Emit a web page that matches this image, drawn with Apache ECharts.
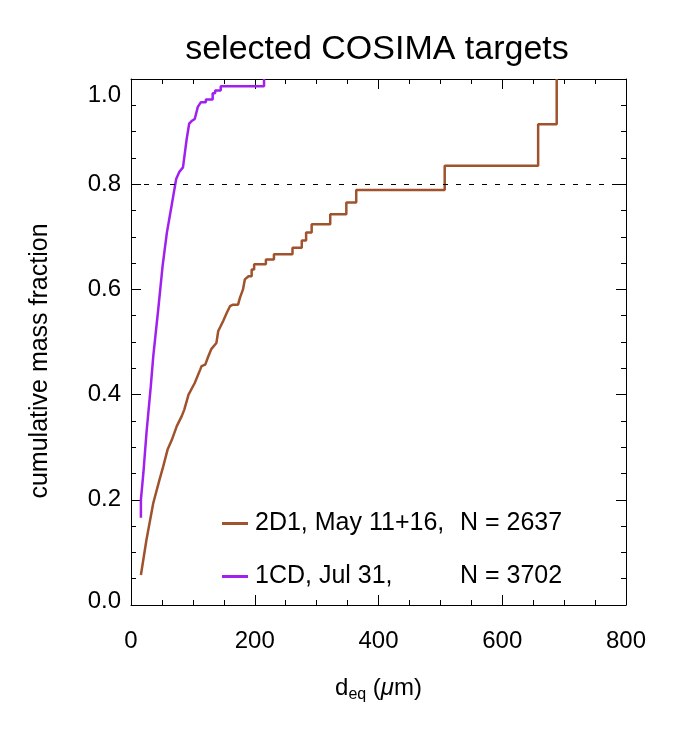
<!DOCTYPE html>
<html>
<head>
<meta charset="utf-8">
<script src="https://cdn.jsdelivr.net/npm/echarts@6/dist/echarts.min.js"></script>
<style>
  html, body { margin: 0; padding: 0; background: #fff; }
  #chart { width: 681px; height: 738px; }
</style>
</head>
<body>
<div id="chart"></div>
<script>
// 2D1, May 11+16 — cumulative mass fraction vs d_eq (um)
const d2D1 = [16, 25, 36, 46, 52, 59, 66, 74, 82, 86, 93, 103, 112, 114, 120, 125, 130, 138, 141, 149,
  155, 160, 165, 173, 176, 181, 184, 190, 195, 195, 199, 199, 218, 218, 231, 231, 261, 261, 276, 276,
  283, 283, 292, 292, 322, 322, 348, 348, 364, 364, 507, 507, 658, 658, 688, 688]
const f2D1 = [0.057, 0.124, 0.194, 0.238, 0.263, 0.295, 0.314, 0.34, 0.359, 0.371, 0.40, 0.422, 0.448, 0.454, 0.457, 0.473, 0.487, 0.498, 0.521, 0.54,
  0.556, 0.568, 0.571, 0.571, 0.584, 0.60, 0.619, 0.625, 0.625, 0.638, 0.638, 0.648, 0.648, 0.657, 0.657, 0.667, 0.667, 0.679, 0.679, 0.693,
  0.693, 0.708, 0.708, 0.724, 0.724, 0.743, 0.743, 0.765, 0.765, 0.789, 0.789, 0.835, 0.835, 0.914, 0.914, 1.0]

// 1CD, Jul 31
const d1CD = [16, 16, 20, 25, 32, 36, 44, 51, 58, 66, 73, 78, 84, 90, 94, 98, 103, 108, 110, 113,
  121, 121, 132, 132, 136, 136, 145, 145, 215, 215]
const f1CD = [0.166, 0.20, 0.251, 0.327, 0.416, 0.473, 0.562, 0.644, 0.708, 0.762, 0.81, 0.823, 0.832, 0.886, 0.915, 0.92, 0.924, 0.947, 0.949, 0.956,
  0.956, 0.961, 0.961, 0.973, 0.973, 0.978, 0.978, 0.986, 0.986, 1.0]

const legendLabels = ['2D1, May 11+16,', '1CD, Jul 31,']
const legendCounts = [2637, 3702]
const refLevel = 0.8

const FONT = 'Liberation Sans, Helvetica, Arial, sans-serif'
const zip = (xs, ys) => xs.map((x, i) => [x, ys[i]])

const chart = echarts.init(document.getElementById('chart'))

const axisLine = { show: true, onZero: false, lineStyle: { color: '#000', width: 1 } }
const tick = { show: true, inside: true, length: 10, lineStyle: { color: '#000' } }
const minor = { show: true, splitNumber: 4, length: 5, lineStyle: { color: '#000' } }

const option = {
  backgroundColor: '#fff',
  animation: false,
  title: {
    text: 'selected COSIMA targets',
    left: 372,
    top: 28,
    textAlign: 'center',
    textStyle: { fontFamily: FONT, fontSize: 34, fontWeight: 'normal', color: '#000' }
  },
  grid: { left: 131, right: 55, top: 79, bottom: 133 },
  legend: {
    orient: 'vertical',
    left: 217,
    top: 506,
    icon: 'rect',
    itemWidth: 26,
    itemHeight: 3,
    itemGap: 28,
    data: ['2D1', '1CD'],
    formatter: name => {
      const i = name === '2D1' ? 0 : 1
      return `{a|${legendLabels[i]}}{b|N = ${legendCounts[i]}}`
    },
    textStyle: {
      fontFamily: FONT, fontSize: 25, color: '#000', lineHeight: 24,
      rich: {
        a: { fontFamily: FONT, fontSize: 25, width: 205, padding: [0, 0, 0, 2] },
        b: { fontFamily: FONT, fontSize: 25 }
      }
    }
  },
  xAxis: [
    {
      type: 'value', min: 0, max: 800, interval: 200,
      axisLine, axisTick: tick, minorTick: minor, splitLine: { show: false },
      axisLabel: { fontFamily: FONT, fontSize: 24, color: '#000', margin: 24 },
      name: '{a|d}{s|eq}{a| (}{i|μ}{a|m)}',
      nameLocation: 'middle',
      nameGap: 68,
      nameTextStyle: {
        rich: {
          a: { fontFamily: FONT, fontSize: 24, color: '#000' },
          s: { fontFamily: FONT, fontSize: 16, color: '#000', padding: [14, 0, 0, 0] },
          i: { fontFamily: FONT, fontSize: 24, fontStyle: 'italic', color: '#000' }
        }
      }
    },
    {
      type: 'value', position: 'top', min: 0, max: 800, interval: 200,
      axisLine, axisTick: tick, minorTick: minor, splitLine: { show: false },
      axisLabel: { show: false }
    }
  ],
  yAxis: [
    {
      type: 'value', min: 0, max: 1, interval: 0.2,
      axisLine, axisTick: tick, minorTick: minor, splitLine: { show: false },
      axisLabel: {
        fontFamily: FONT, fontSize: 24, color: '#000', margin: 10,
        formatter: v => v >= 1 ? `{t|${v.toFixed(1)}}` : v <= 0 ? `{b|${v.toFixed(1)}}` : v.toFixed(1),
        rich: {
          t: { fontFamily: FONT, fontSize: 24, color: '#000', padding: [32, 0, 0, 0] },
          b: { fontFamily: FONT, fontSize: 24, color: '#000', padding: [0, 0, 8, 0] }
        }
      },
      name: 'cumulative mass fraction',
      nameLocation: 'middle',
      nameGap: 78,
      nameTextStyle: { fontFamily: FONT, fontSize: 25, color: '#000', padding: [0, 38, 0, 0] }
    },
    {
      type: 'value', position: 'right', min: 0, max: 1, interval: 0.2,
      axisLine, axisTick: tick, minorTick: minor, splitLine: { show: false },
      axisLabel: { show: false }
    }
  ],
  series: [
    {
      name: '2D1',
      type: 'line',
      data: zip(d2D1, f2D1),
      symbol: 'none',
      lineStyle: { color: '#A0522D', width: 2.5 },
      itemStyle: { color: '#A0522D' },
      markLine: {
        silent: true,
        symbol: 'none',
        label: { show: false },
        lineStyle: { color: '#000', width: 1, type: [5, 8] },
        data: [[{ coord: [0, refLevel] }, { coord: [800, refLevel] }]]
      }
    },
    {
      name: '1CD',
      type: 'line',
      data: zip(d1CD, f1CD),
      symbol: 'none',
      lineStyle: { color: '#A020F0', width: 2.5 },
      itemStyle: { color: '#A020F0' }
    }
  ]
}

chart.setOption(option)
</script>
</body>
</html>
